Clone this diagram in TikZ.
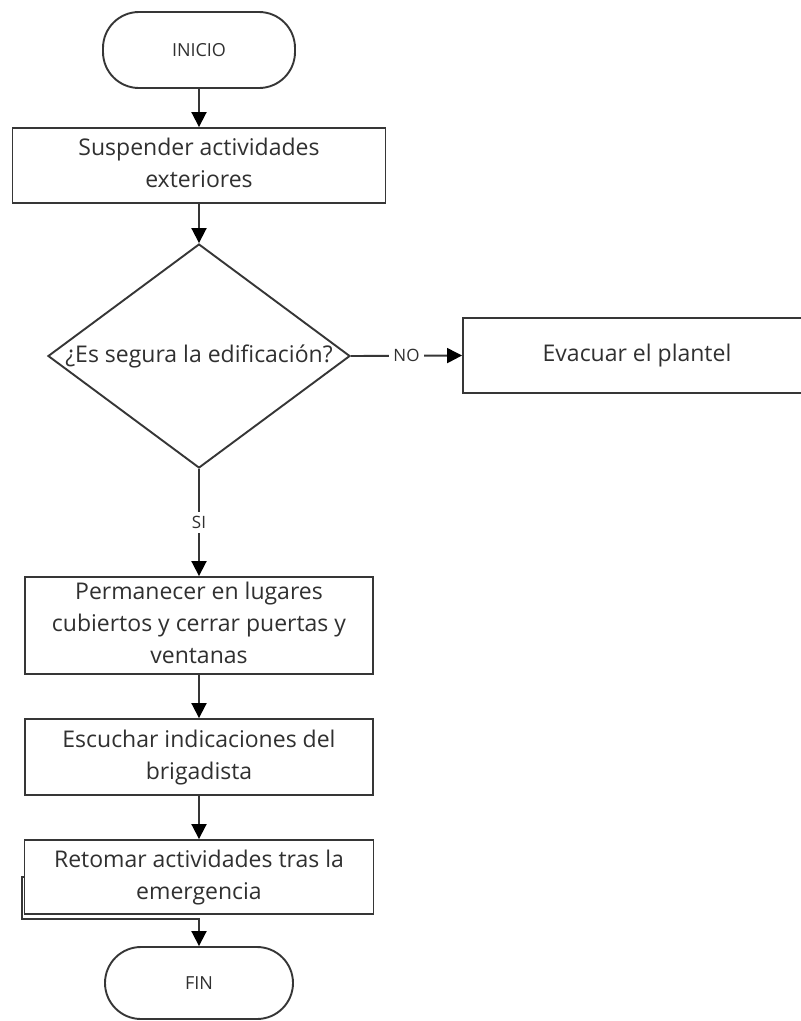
\documentclass[tikz,border=0pt]{standalone}
\usepackage{fontspec}
\setmainfont{Open Sans}
\usetikzlibrary{shapes.geometric,arrows.meta}
\definecolor{edge}{HTML}{363636}
\definecolor{ink}{HTML}{303030}
% centred block of lines for the step boxes
\newcommand{\steplines}[1]{\begin{tabular}{@{}c@{}}#1\end{tabular}}
\tikzset{
  stepbox/.style={draw=edge, line width=1.9pt, fill=white, rectangle, inner sep=0pt,
    text=ink, font=\fontsize{23}{32}\selectfont},
  term/.style={draw=edge, line width=1.9pt, fill=white, rectangle, rounded corners=36pt,
    inner sep=0pt, text=ink, font=\fontsize{18}{22}\selectfont},
  decision/.style={draw=edge, line width=1.9pt, fill=white, diamond, inner sep=0pt},
  flow/.style={draw=edge, line width=1.9pt, -{Triangle[length=15pt,width=15pt,color=black]}},
  lbl/.style={fill=white, text=ink, inner sep=4pt, font=\fontsize{17}{20}\selectfont},
}
\begin{document}
\begin{tikzpicture}[x=1pt,y=-1pt]
\clip (0,0) rectangle (801,1021);
\fill[white] (0,0) rectangle (801,1021);

% bend point of the last connector, left of the final step
\coordinate (bend) at (22,919);

% nodes
\node[term, minimum width=192pt, minimum height=76pt] (inicio) at (199,50) {INICIO};
\node[stepbox, minimum width=373pt, minimum height=75pt] (susp) at (199,165.5)
  {\steplines{Suspender actividades\\exteriores}};
\node[decision, minimum width=302pt, minimum height=224pt] (dec) at (199,356) {};
\node[text=ink, font=\fontsize{23}{32}\selectfont, inner sep=0pt] (dectext) at (199,356)
  {¿Es segura la edificación?};
\node[stepbox, minimum width=348pt, minimum height=75pt] (evac) at (637,355.5)
  {Evacuar el plantel};
\node[stepbox, minimum width=348pt, minimum height=97pt] (perm) at (199,625.5)
  {\steplines{Permanecer en lugares\\cubiertos y cerrar puertas y\\ventanas}};
\node[stepbox, minimum width=348pt, minimum height=76pt] (esc) at (199,757)
  {\steplines{Escuchar indicaciones del\\brigadista}};
\node[stepbox, minimum width=349pt, minimum height=74pt] (ret) at (199,877)
  {\steplines{Retomar actividades tras la\\emergencia}};
\node[term, minimum width=188pt, minimum height=72pt] (fin) at (199,983) {FIN};

% connectors
\draw[flow] (inicio) -- (susp);
\draw[flow] (susp) -- (dec.north);
\draw[flow] (dec.east) -- node[lbl]{NO} (evac.west);
\draw[flow] (dec.south) -- node[lbl]{SI} (perm.north);
\draw[flow] (perm) -- (esc);
\draw[flow] (esc) -- (ret);
\draw[flow] (ret.west) -| (bend) -| (fin.north);
\end{tikzpicture}
\end{document}
